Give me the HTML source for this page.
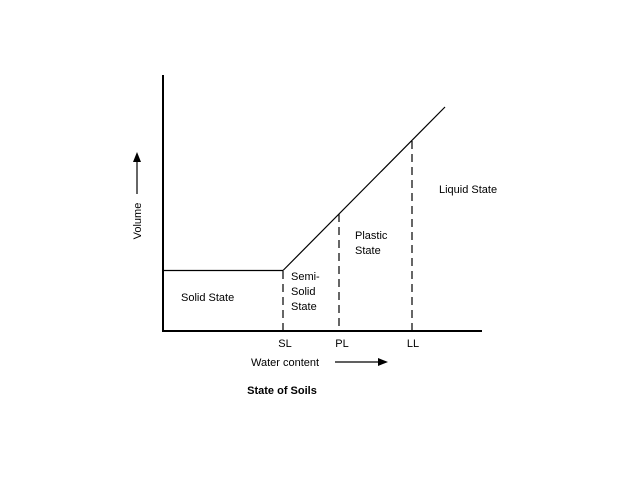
<!DOCTYPE html>
<html><head><style>body{margin:0;background:#fff}</style></head><body>
<svg width="618" height="493" xmlns="http://www.w3.org/2000/svg" font-family="Liberation Sans, sans-serif" font-size="11" fill="#000">
<g stroke="#000" fill="none">
<line x1="163" y1="75" x2="163" y2="332" stroke-width="2"/>
<line x1="162" y1="331" x2="482" y2="331" stroke-width="2"/>
<line x1="163" y1="270.5" x2="283" y2="270.5" stroke-width="1.2"/>
<line x1="283" y1="270.5" x2="445" y2="107" stroke-width="1.2"/>
<g stroke-width="1.2" stroke-dasharray="8,5">
<line x1="283" y1="271" x2="283" y2="331"/>
<line x1="339" y1="214" x2="339" y2="331"/>
<line x1="412" y1="141" x2="412" y2="331"/>
</g>
<line x1="137" y1="194" x2="137" y2="160" stroke-width="1.2"/>
<line x1="335" y1="362" x2="380" y2="362" stroke-width="1.2"/>
</g>
<polygon points="137,152 133,162 141,162"/>
<text x="141" y="221" text-anchor="middle" transform="rotate(-90 141 221)">Volume</text>
<polygon points="388,362 378,358 378,366"/>
<text x="181" y="301">Solid State</text>
<text x="291" y="280">Semi-</text>
<text x="291" y="295">Solid</text>
<text x="291" y="310">State</text>
<text x="355" y="239">Plastic</text>
<text x="355" y="254">State</text>
<text x="439" y="193">Liquid State</text>
<text x="285" y="347" text-anchor="middle">SL</text>
<text x="342" y="347" text-anchor="middle">PL</text>
<text x="413" y="347" text-anchor="middle">LL</text>
<text x="251" y="366">Water content</text>
<text x="282" y="394" text-anchor="middle" font-weight="bold">State of Soils</text>
</svg>
</body></html>
